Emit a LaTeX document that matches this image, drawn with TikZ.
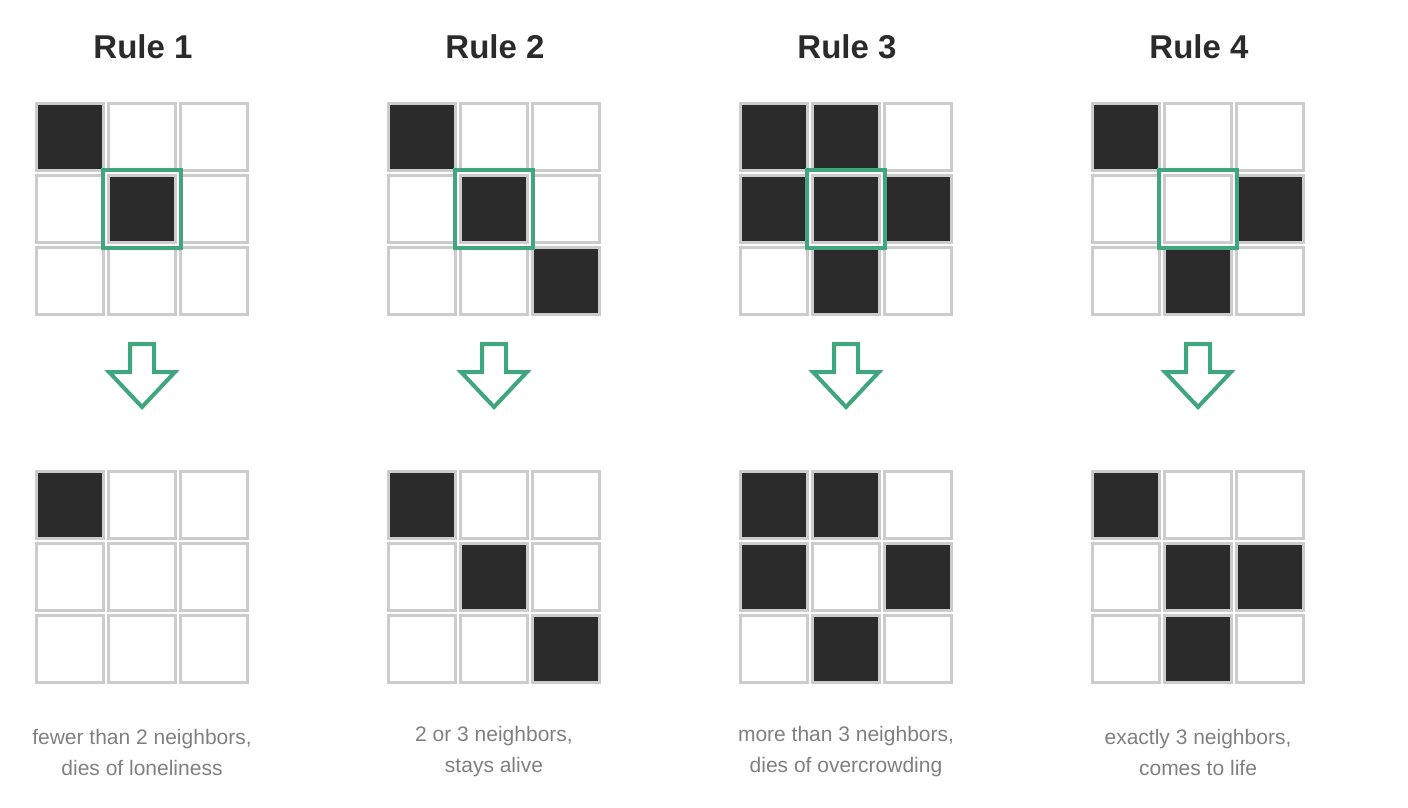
\documentclass[tikz,border=0pt]{standalone}
\usepackage{fontspec}
\setmainfont{Liberation Sans}
\definecolor{dark}{HTML}{2B2B2B}
\definecolor{cgray}{HTML}{CCCCCC}
\definecolor{grn}{HTML}{3FA67E}
\definecolor{txt}{HTML}{808080}
\begin{document}
\begin{tikzpicture}[x=1pt,y=-1pt,
  cell/.style={draw=cgray,line width=3pt,minimum size=67pt,inner sep=0,fill=white},
  alive/.style={cell,fill=dark},
  hl/.style={draw=grn,line width=4pt,minimum size=78pt,inner sep=0},
  arr/.style={draw=grn,line width=4pt,line join=miter},
  title/.style={font=\bfseries\fontsize{33}{36}\selectfont,text=dark},
  caption/.style={font=\fontsize{21}{31}\selectfont,text=txt,align=center}]
\useasboundingbox (0,0) rectangle (1408,808);
\foreach \r/\cx/\top/\bot/\t in {
  1/142/{0,4}/{0}/{fewer than 2 neighbors,\\dies of loneliness},
  2/494/{0,4,8}/{0,4,8}/{2 or 3 neighbors,\\stays alive},
  3/846/{0,1,3,4,5,7}/{0,1,3,5,7}/{more than 3 neighbors,\\dies of overcrowding},
  4/1198/{0,5,7}/{0,4,5,7}/{exactly 3 neighbors,\\comes to life}} {
  \node[title] (t\r) at (\cx+1,47) {Rule \r};
  \foreach \i in {0,...,8} {
    \pgfmathtruncatemacro{\col}{mod(\i,3)}
    \pgfmathtruncatemacro{\row}{div(\i,3)}
    \node[cell] (a\r-\i) at (\cx-72+72*\col,137+72*\row) {};
    \node[cell] (b\r-\i) at (\cx-72+72*\col,505+72*\row) {};
  }
  \foreach \i in \top {\node[alive] at (a\r-\i) {};}
  \foreach \i in \bot {\node[alive] at (b\r-\i) {};}
  \node[hl] (h\r) at (a\r-4) {};
  \coordinate (ar\r) at (\cx,344);
  \draw[arr] (ar\r) ++(-12,0) -- ++(0,28) -- ++(-21,0) -- ++(33,35) -- ++(33,-35) -- ++(-21,0) -- ++(0,-28) -- cycle;
  \node[caption] (c\r) at (\cx,752) {\t};
}
\end{tikzpicture}
\end{document}
